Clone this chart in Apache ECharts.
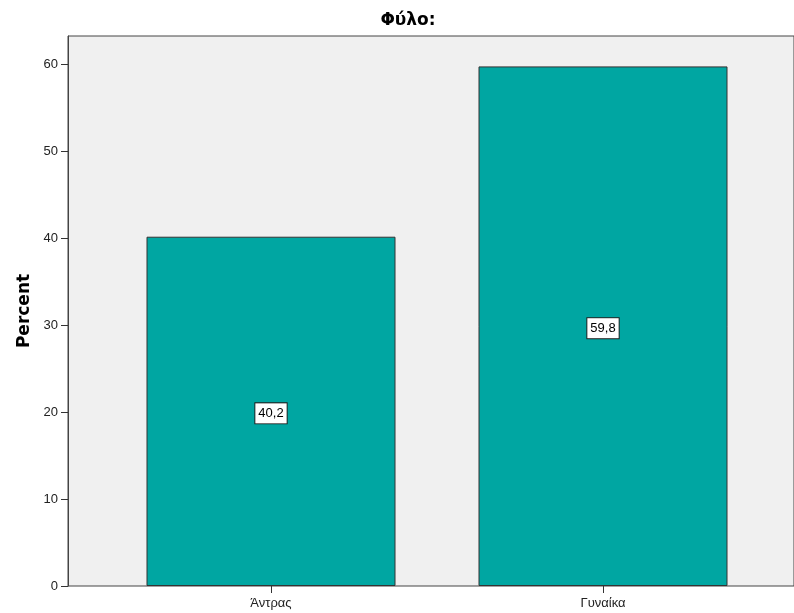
<!DOCTYPE html>
<html><head><meta charset="utf-8">
<script src="https://cdn.jsdelivr.net/npm/echarts@6/dist/echarts.min.js"></script>
<style>html,body{margin:0;padding:0;background:#fff}#c{width:794px;height:613px}</style>
</head><body><div id="c"></div>
<script>
var categories = ['Άντρας', 'Γυναίκα'];
var percentValues = [40.2, 59.8];
var yTicks = [0, 10, 20, 30, 40, 50, 60];
var chartTitle = 'Φύλο:';
var yName = 'Percent';

var FONT = '"Liberation Sans", Arial, sans-serif';
var BOLD = '"DejaVu Sans", "Liberation Sans", sans-serif';
var chart = echarts.init(document.getElementById('c'));
chart.setOption({
  animation: false,
  title: { text: chartTitle, left: 403, top: 7, textAlign: 'center',
    textStyle: { fontFamily: BOLD, fontSize: 17, fontWeight: 'bold', color: '#000' } },
  grid: [
    { left: 68, width: 760, top: 36, bottom: 27, show: true, backgroundColor: '#f0f0f0',
      borderColor: '#444', borderWidth: 1, z: 0 },
    { left: 105, right: 25, top: 36, bottom: 27 }
  ],
  xAxis: [
    { gridIndex: 0, type: 'value', show: false, min: 0, max: 1 },
    { gridIndex: 1, type: 'category', data: categories,
      axisLine: { show: false },
      axisTick: { show: true, alignWithLabel: true, length: 7, lineStyle: { color: '#333' } },
      axisLabel: { fontFamily: FONT, fontSize: 13, color: '#222', margin: 11 } }
  ],
  yAxis: [
    { gridIndex: 0, type: 'value', show: false, min: 0, max: 63.3 },
    { gridIndex: 1, type: 'value', min: 0, max: 63.3, interval: 10, offset: 37,
      name: yName, nameLocation: 'middle', nameGap: 32, nameRotate: 90,
      nameTextStyle: { fontFamily: BOLD, fontSize: 17, fontWeight: 'bold', color: '#000' },
      axisLine: { show: true, lineStyle: { color: '#444' } },
      axisTick: { show: true, length: 7, lineStyle: { color: '#333' }, customValues: yTicks },
      axisLabel: { fontFamily: FONT, fontSize: 13, color: '#222', margin: 10, customValues: yTicks },
      splitLine: { show: false } }
  ],
  series: [{
    type: 'bar', xAxisIndex: 1, yAxisIndex: 1, data: percentValues,
    barWidth: 249,
    itemStyle: { color: '#00a6a2', borderColor: '#333', borderWidth: 1 },
    label: { show: true, position: 'inside', offset: [0, 2],
      formatter: function (p) { return String(p.value).replace('.', ','); },
      fontFamily: FONT, fontSize: 13, color: '#000', backgroundColor: '#fff',
      borderColor: '#222', borderWidth: 1, padding: [4, 3, 3, 3] }
  }]
});
</script></body></html>
